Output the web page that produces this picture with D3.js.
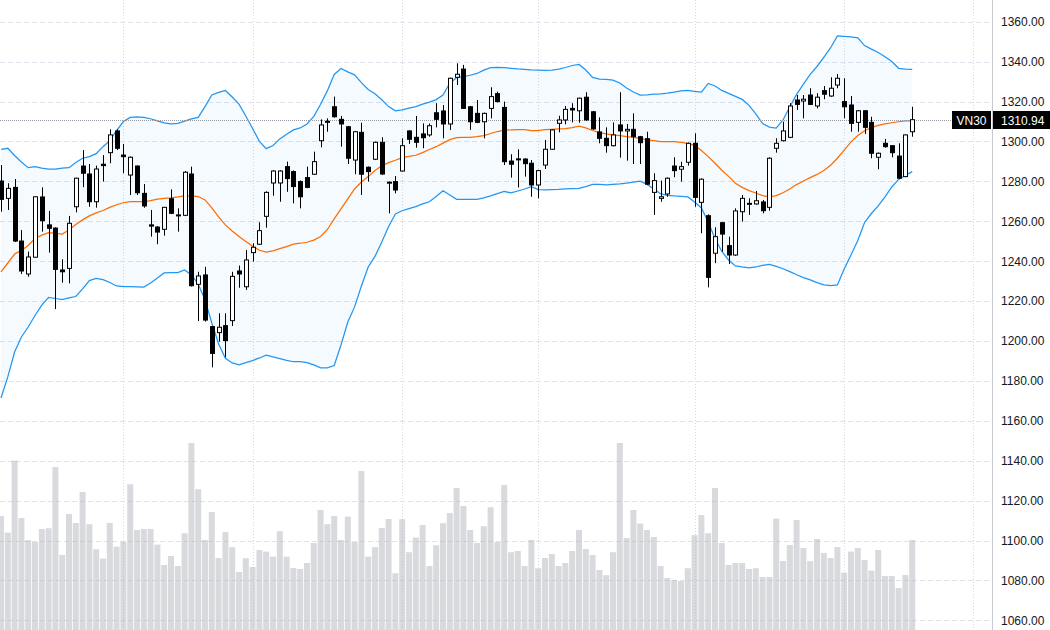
<!DOCTYPE html>
<html>
<head>
<meta charset="utf-8">
<script src="https://cdn.jsdelivr.net/npm/d3@7"></script>
<style>
  body { margin: 0; background: #fff; }
  svg { display: block; font-family: "Liberation Sans", Arial, sans-serif; }
</style>
</head>
<body>
<svg id="chart" width="1050" height="630"></svg>
<script>
// OHLC data, one value per trading day
const openP = [1280.2,1271.5,1277.0,1250.1,1233.6,1242.0,1272.2,1258.2,1256.6,1235.6,
  1236.4,1267.3,1287.7,1283.7,1269.8,1288.6,1294.4,1305.3,1293.2,1283.2,
  1287.7,1274.0,1258.2,1257.1,1256.0,1271.3,1263.2,1263.0,1283.7,1228.4,
  1233.1,1207.2,1204.2,1207.7,1210.2,1235.1,1227.2,1244.3,1248.5,1262.5,
  1279.2,1279.2,1287.4,1284.9,1279.9,1281.9,1283.6,1300.4,1309.6,1317.4,
  1311.1,1307.4,1290.7,1304.6,1287.1,1291.1,1299.6,1279.2,1279.9,1285.2,
  1305.3,1302.1,1303.8,1303.3,1314.4,1315.3,1308.8,1332.2,1336.3,1317.4,
  1314.1,1309.9,1316.6,1324.0,1317.1,1290.2,1291.0,1291.2,1289.1,1278.2,
  1288.2,1296.1,1309.1,1310.8,1316.6,1315.4,1322.2,1314.9,1304.8,1301.6,
  1297.9,1308.3,1305.3,1306.1,1302.4,1301.4,1274.5,1271.5,1273.7,1287.7,
  1286.1,1289.6,1299.1,1269.5,1262.8,1244.0,1259.3,1247.8,1243.1,1264.8,
  1268.7,1268.7,1269.7,1267.0,1296.6,1300.4,1302.1,1320.8,1320.3,1323.3,
  1317.8,1325.5,1322.8,1328.3,1320.0,1318.3,1309.6,1315.4,1309.6,1292.1,
  1299.1,1297.9,1292.7,1282.4,1304.9];
const highP = [1288.2,1279.1,1281.2,1255.6,1244.8,1272.5,1277.0,1265.2,1257.0,1241.0,
  1262.7,1281.8,1295.7,1288.7,1287.9,1293.2,1306.1,1306.1,1298.8,1292.5,
  1288.0,1278.7,1265.7,1257.6,1267.2,1276.0,1266.5,1285.2,1287.4,1234.7,
  1237.2,1207.5,1213.9,1213.9,1234.7,1237.8,1245.6,1249.0,1259.5,1275.0,
  1285.6,1285.6,1289.9,1285.5,1280.5,1287.4,1294.9,1311.1,1311.6,1322.5,
  1312.8,1307.8,1305.3,1309.4,1287.5,1300.0,1302.1,1280.0,1282.7,1301.6,
  1305.7,1312.8,1309.1,1309.0,1319.2,1318.3,1332.0,1339.2,1338.4,1317.8,
  1320.8,1314.5,1327.2,1325.0,1320.0,1293.6,1296.1,1291.6,1290.7,1285.8,
  1300.8,1306.1,1312.9,1317.8,1319.2,1322.0,1324.7,1315.3,1312.1,1307.1,
  1309.6,1324.7,1308.8,1314.1,1302.8,1304.9,1284.1,1280.4,1282.0,1292.1,
  1289.9,1299.5,1304.1,1281.5,1263.5,1257.0,1259.7,1252.3,1266.5,1273.2,
  1271.5,1275.2,1270.7,1292.1,1301.6,1309.9,1319.2,1323.3,1323.3,1326.7,
  1324.2,1327.8,1332.2,1333.8,1331.7,1322.8,1315.8,1315.8,1312.4,1294.5,
  1301.3,1298.2,1299.1,1303.6,1317.4];
const lowP = [1264.8,1265.7,1249.6,1233.6,1232.2,1241.8,1254.8,1244.3,1216.0,1229.2,
  1228.9,1264.5,1277.1,1267.3,1266.8,1279.9,1289.1,1295.7,1284.1,1273.2,
  1273.2,1266.8,1252.3,1248.5,1252.8,1263.6,1254.8,1262.6,1227.3,1210.0,
  1209.7,1186.8,1199.7,1191.8,1207.5,1226.7,1225.6,1239.8,1248.2,1256.8,
  1272.8,1269.8,1274.8,1269.0,1266.5,1276.6,1283.2,1297.1,1304.9,1312.0,
  1297.4,1288.7,1283.6,1273.2,1279.9,1290.7,1283.3,1264.0,1274.0,1284.9,
  1298.8,1296.9,1296.6,1302.4,1307.1,1301.6,1305.8,1328.3,1316.3,1305.8,
  1309.2,1301.6,1311.6,1319.6,1288.2,1281.9,1277.0,1282.4,1272.3,1271.5,
  1286.2,1295.8,1304.6,1308.6,1309.6,1309.4,1310.4,1305.9,1299.1,1294.4,
  1297.5,1291.9,1290.4,1288.7,1288.7,1278.2,1263.2,1269.8,1272.3,1282.1,
  1279.9,1287.9,1267.3,1254.0,1226.9,1239.0,1244.8,1238.6,1242.7,1259.8,
  1263.2,1268.3,1264.0,1265.3,1294.4,1300.0,1301.7,1315.8,1311.6,1318.2,
  1316.6,1321.2,1322.4,1326.7,1311.6,1304.9,1304.9,1303.8,1291.6,1286.1,
  1296.9,1292.1,1281.2,1282.1,1302.4];
const closeP = [1271.0,1276.5,1250.1,1235.1,1242.1,1272.3,1260.3,1256.5,1235.9,1234.7,
  1259.0,1281.6,1284.1,1269.8,1286.2,1287.9,1303.3,1296.6,1292.4,1292.1,
  1274.3,1267.7,1257.6,1254.6,1267.0,1264.0,1262.8,1284.6,1227.7,1232.6,
  1210.5,1193.8,1206.9,1200.2,1232.4,1233.6,1240.6,1247.0,1255.3,1274.5,
  1285.2,1285.2,1281.4,1277.4,1272.3,1277.0,1289.9,1308.3,1310.1,1312.4,
  1308.8,1291.6,1304.9,1283.6,1284.9,1299.6,1283.7,1279.6,1275.7,1297.9,
  1301.1,1299.6,1301.9,1307.9,1311.1,1308.8,1331.7,1333.7,1316.6,1309.9,
  1309.6,1314.1,1322.5,1320.0,1289.9,1288.6,1291.3,1288.9,1278.2,1285.4,
  1296.1,1305.8,1310.8,1316.1,1315.8,1321.7,1310.8,1306.3,1301.6,1297.9,
  1303.3,1305.3,1306.1,1302.4,1299.4,1278.6,1280.4,1272.3,1281.6,1285.4,
  1287.4,1299.1,1272.0,1281.1,1231.9,1252.3,1253.6,1243.1,1265.2,1271.5,
  1269.0,1270.3,1265.3,1291.6,1299.1,1305.3,1317.8,1318.6,1321.2,1318.6,
  1322.2,1323.7,1326.7,1331.7,1317.4,1309.1,1315.4,1307.1,1294.1,1294.1,
  1297.4,1294.4,1281.6,1303.3,1310.94];
const volume = [57,48.7,84.7,56,44.9,44,50.5,50.9,81.5,37.5,
  58,53.5,69,52.9,40.4,35.7,53.5,41.7,44.2,72.9,
  50,50.5,50.5,42.7,32.5,37,32,48.4,93.5,70.4,
  45,59,36,49,41.4,29,35.9,31.5,40,39.2,
  36.7,49.4,36.7,31,30.5,33.5,43.5,60,52.9,57,
  45,56.7,44,79.5,36.7,41.4,51,55.5,28.4,55.4,
  38.9,46.2,52.5,32,42.4,53.4,58.5,71,62,50,
  43.5,51.9,61.4,44,72.5,38.9,39.5,32,45,30.9,
  36,38,32,33.5,39.5,50,40.5,37.5,30,27.4,
  38.9,93.5,46,60,53.2,50,46.5,32,26,25,
  24.5,30.9,47.4,57.5,48.4,71,43.5,32.5,33.5,33.5,
  30.5,30.9,26.5,26.5,55.7,34.5,42.5,55,41,34.4,
  45.5,38.5,36,41.5,28.7,39.2,41,35,29.7,40,
  27,27,21,27.5,45];

// Bollinger bands as drawn on the chart
const bbUpper = [1296.0,1296.6,1293.0,1289.7,1286.9,1287.4,1286.7,1286.2,1286.2,1286.6,
  1286.9,1289.5,1291.6,1292.4,1293.9,1297.4,1300.4,1305.5,1310.0,1312.1,
  1312.4,1312.1,1311.4,1310.3,1309.3,1308.8,1309.1,1310.2,1311.3,1312.1,
  1317.5,1323.3,1324.6,1325.6,1322.3,1318.7,1312.8,1306.5,1300.1,1296.4,
  1298.0,1301.3,1303.6,1305.8,1306.8,1308.8,1312.6,1318.7,1325.5,1333.6,
  1336.6,1334.9,1333.4,1329.5,1326.1,1323.9,1320.9,1317.5,1315.4,1315.9,
  1316.7,1317.5,1318.7,1319.7,1321.0,1323.3,1329.3,1332.0,1332.5,1333.2,
  1334.1,1335.8,1337.0,1337.2,1337.0,1336.7,1336.4,1336.2,1335.9,1335.8,
  1335.6,1335.8,1336.3,1337.1,1338.1,1338.6,1335.8,1332.1,1331.3,1331.1,
  1330.8,1329.3,1326.8,1324.8,1323.3,1323.4,1323.7,1323.9,1324.2,1324.8,
  1325.4,1325.6,1325.1,1324.8,1329.1,1327.8,1325.6,1324.1,1322.6,1321.1,
  1318.1,1313.9,1309.0,1307.2,1306.7,1310.8,1317.3,1323.6,1328.8,1333.6,
  1337.6,1342.2,1347.0,1352.9,1352.7,1352.5,1352.0,1348.1,1346.3,1344.6,
  1342.5,1340.1,1336.7,1336.3,1336.2];
const bbBasis = [1234.7,1239.1,1243.6,1245.4,1247.9,1251.4,1253.1,1254.3,1253.9,1253.6,
  1255.6,1258.4,1260.7,1262.7,1264.2,1265.4,1267.0,1268.3,1269.3,1269.8,
  1269.8,1269.8,1270.4,1271.1,1271.5,1271.8,1272.2,1272.7,1272.7,1272.4,
  1270.7,1266.7,1262.2,1258.2,1255.1,1252.4,1249.9,1247.5,1245.5,1244.5,
  1245.2,1246.3,1247.3,1248.6,1249.0,1249.5,1250.6,1252.4,1255.9,1261.2,
  1266.2,1271.2,1276.2,1279.7,1282.4,1285.5,1287.8,1289.4,1290.6,1291.9,
  1292.5,1293.1,1294.4,1296.0,1297.4,1299.2,1300.9,1301.9,1302.1,1302.1,
  1302.5,1303.0,1304.0,1305.0,1305.7,1305.8,1306.0,1305.9,1305.5,1305.4,
  1305.9,1306.1,1306.3,1306.5,1307.0,1307.7,1306.8,1305.5,1304.5,1303.8,
  1303.3,1302.9,1302.4,1302.1,1301.6,1300.8,1300.4,1299.9,1299.9,1299.9,
  1299.6,1299.1,1298.1,1295.5,1292.4,1289.1,1285.6,1282.5,1279.1,1277.0,
  1275.4,1274.2,1272.9,1272.3,1272.9,1274.3,1276.2,1278.4,1280.2,1281.9,
  1283.5,1285.5,1288.1,1291.6,1295.7,1299.8,1303.0,1305.4,1307.0,1308.1,
  1308.8,1309.4,1309.9,1310.3,1310.4];
const bbLower = [1171.4,1182.0,1194.5,1202.0,1207.0,1212.8,1218.0,1221.9,1221.3,1220.8,
  1221.6,1222.3,1226.1,1230.3,1231.4,1230.8,1229.3,1227.6,1227.2,1227.2,
  1227.1,1227.0,1229.1,1231.6,1234.1,1234.3,1234.3,1235.6,1233.1,1228.6,
  1220.6,1209.0,1198.5,1191.3,1189.0,1188.1,1189.2,1190.2,1191.5,1192.9,
  1192.0,1191.2,1190.3,1189.6,1189.6,1189.2,1188.0,1186.5,1186.5,1187.7,
  1198.0,1209.5,1217.1,1227.6,1237.1,1242.4,1249.6,1257.4,1263.7,1265.3,
  1266.4,1267.4,1268.7,1269.8,1272.4,1275.3,1273.2,1271.0,1271.0,1271.0,
  1271.0,1271.7,1272.7,1273.9,1275.0,1274.2,1275.2,1276.2,1277.4,1275.9,
  1275.8,1275.9,1276.0,1276.2,1276.4,1276.5,1277.4,1278.5,1278.5,1278.2,
  1278.5,1278.7,1279.1,1279.6,1280.1,1278.5,1276.2,1273.8,1273.0,1272.7,
  1272.5,1272.2,1269.7,1266.7,1259.7,1251.4,1244.9,1240.6,1237.6,1237.1,
  1236.7,1237.1,1237.9,1238.4,1237.4,1236.2,1234.8,1233.2,1231.8,1230.6,
  1229.3,1228.1,1227.8,1228.1,1236.1,1243.1,1250.4,1259.4,1263.9,1267.7,
  1272.2,1277.2,1281.0,1283.0,1284.9];

const yTicks = d3.range(1060, 1361, 20);
const monthStarts = [18, 37, 59, 79, 102, 124, 143]; // vertical grid positions (bar index)
const symbol = "VN30";

const data = openP.map((o, i) => ({
  i, open: o, high: highP[i], low: lowP[i], close: closeP[i], vol: volume[i],
  up: bbUpper[i], mid: bbBasis[i], lo: bbLower[i]
}));

const width = 1050, height = 630, axisX = 992;
const svg = d3.select("#chart");

// scales
const x = d3.scaleLinear().domain([0, 134]).range([1, 912.2]);
const y = d3.scaleLinear().domain([1060, 1360]).range([620.3, 21.8]);
const vy = d3.scaleLinear().domain([0, 100]).range([height, height - 200]);

// grid
const grid = svg.append("g");
grid.selectAll("line.h")
  .data(yTicks)
  .enter().append("line")
    .attr("x1", 0).attr("x2", axisX)
    .attr("y1", d => Math.round(y(d)) + 0.5)
    .attr("y2", d => Math.round(y(d)) + 0.5)
    .style("stroke", "#e0e3eb")
    .style("stroke-dasharray", "5,3");
grid.selectAll("line.v")
  .data(monthStarts)
  .enter().append("line")
    .attr("x1", d => Math.round(x(d)) + 0.5)
    .attr("x2", d => Math.round(x(d)) + 0.5)
    .attr("y1", 0).attr("y2", height)
    .style("stroke", "#d6d8de")
    .style("stroke-dasharray", "1,2");

// volume
svg.append("g")
  .selectAll("rect")
  .data(data)
  .enter().append("rect")
    .attr("x", d => x(d.i) - 3)
    .attr("width", 6)
    .attr("y", d => vy(d.vol))
    .attr("height", d => height - vy(d.vol))
    .style("fill", "#b2b5be")
    .style("opacity", 0.5);

// Bollinger bands
svg.append("path")
  .datum(data)
  .attr("d", d3.area().x(d => x(d.i)).y0(d => y(d.lo)).y1(d => y(d.up)))
  .style("fill", "rgba(33,150,243,0.05)");

const lineGen = key => d3.line().x(d => x(d.i)).y(d => y(d[key]));
[["up", "#2196f3"], ["lo", "#2196f3"], ["mid", "#ff6d00"]].forEach(([k, c]) => {
  svg.append("path")
    .datum(data)
    .attr("d", lineGen(k))
    .style("fill", "none")
    .style("stroke", c)
    .style("stroke-width", 1.25);
});

// last price line
const lastY = Math.round(y(closeP[closeP.length - 1])) + 0.5;
svg.append("line")
  .attr("x1", 0).attr("x2", 952)
  .attr("y1", lastY).attr("y2", lastY)
  .style("stroke", "#9598a1")
  .style("stroke-dasharray", "1,1");

// candles
const candles = svg.append("g");
candles.selectAll("line")
  .data(data)
  .enter().append("line")
    .attr("x1", d => Math.round(x(d.i)) + 0.5)
    .attr("x2", d => Math.round(x(d.i)) + 0.5)
    .attr("y1", d => y(d.high))
    .attr("y2", d => y(d.low))
    .style("stroke", "#000")
    .style("stroke-width", 1);
candles.selectAll("rect")
  .data(data)
  .enter().append("rect")
    .attr("x", d => Math.round(x(d.i)) - 1.5)
    .attr("width", 4)
    .attr("y", d => y(Math.max(d.open, d.close)))
    .attr("height", d => Math.max(1, Math.abs(y(d.open) - y(d.close))))
    .style("fill", d => d.close >= d.open ? "#fff" : "#000")
    .style("stroke", "#000")
    .style("stroke-width", 1);

// right price axis
svg.append("line")
  .attr("x1", axisX + 0.5).attr("x2", axisX + 0.5)
  .attr("y1", 0).attr("y2", height)
  .style("stroke", "#c8cad0");

const axis = svg.append("g")
  .attr("transform", `translate(${axisX},0)`)
  .call(d3.axisRight(y).tickValues(yTicks).tickSize(0).tickPadding(9).tickFormat(d3.format(".2f")));
axis.select(".domain").remove();
axis.selectAll("text")
  .style("font-size", "12px")
  .style("font-family", "'Liberation Sans', Arial, sans-serif")
  .style("fill", "#131722");

// last price labels
const tag = svg.append("g");
tag.append("rect")
  .attr("x", 952).attr("y", lastY - 9.5).attr("width", 39).attr("height", 18)
  .style("fill", "#000");
tag.append("rect")
  .attr("x", axisX + 1).attr("y", lastY - 9.5).attr("width", width - axisX - 1).attr("height", 18)
  .style("fill", "#000");
tag.append("text")
  .attr("x", 971.5).attr("y", lastY).attr("dy", "0.35em")
  .attr("text-anchor", "middle")
  .style("font-size", "12px").style("fill", "#fff")
  .text(symbol);
tag.append("text")
  .attr("x", axisX + 9).attr("y", lastY).attr("dy", "0.35em")
  .style("font-size", "12px").style("fill", "#fff")
  .text(d3.format(".2f")(closeP[closeP.length - 1]));
</script>
</body>
</html>
